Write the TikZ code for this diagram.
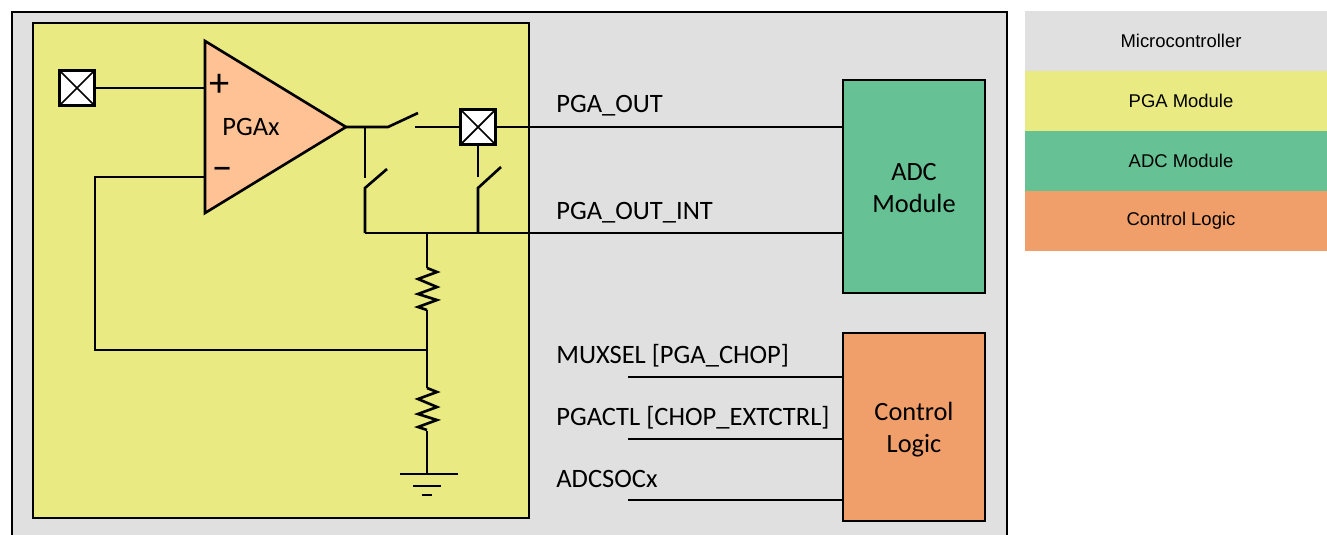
\documentclass[tikz,border=0pt]{standalone}
\usepackage{fontspec}
\setmainfont{Carlito}
\newfontfamily\legendfont{Liberation Sans}
\usetikzlibrary{calc, positioning}
\definecolor{mcugray}{HTML}{E0E0E0}
\definecolor{pgayellow}{HTML}{EAEA82}
\definecolor{adcgreen}{HTML}{66C194}
\definecolor{ctlorange}{HTML}{F09E6A}
\definecolor{ampfill}{HTML}{FFC295}

\begin{document}
\begin{tikzpicture}[
    x=0.02cm, y=-0.02cm,
    wire/.style={line width=1.5pt, line join=miter},
    block/.style={draw, line width=1.5pt, inner sep=0pt, align=center,
                  font=\fontsize{15}{18.2}\selectfont},
    pad/.style={draw, line width=1.5pt, fill=white, inner sep=0pt, minimum size=0.7cm,
                path picture={\draw[line width=1pt]
                  (path picture bounding box.north west) -- (path picture bounding box.south east)
                  (path picture bounding box.north east) -- (path picture bounding box.south west);}},
    sig/.style={anchor=base west, inner sep=0pt, font=\fontsize{15.1}{17}\selectfont},
    sign/.style={inner sep=0pt, font=\fontsize{23}{24}\selectfont},
    legend/.style={minimum width=6.24cm, minimum height=1.2cm, inner sep=0pt, outer sep=0pt,
                   font=\legendfont\fontsize{10.5}{12}\selectfont},
    res/.pic={\draw[wire] (0,0) -- ++(10,4) -- ++(-19,7) -- ++(19,8) -- ++(-19,7)
                -- ++(19,6) -- ++(-19,7) -- ++(9,3);}
  ]
    \useasboundingbox (0,0) rectangle (1327,534);

    % module boxes
    \node[block, fill=mcugray, minimum width=19.9cm, minimum height=10.66cm] (mcu) at (509.5,278.5) {};
    \node[block, fill=pgayellow, minimum width=9.92cm, minimum height=9.9cm] (pga) at (281,270.5) {};
    \node[block, fill=adcgreen, minimum width=2.84cm, minimum height=4.26cm] (adc) at (914,186.5) {\rule{0pt}{12pt}ADC\\Module};
    \node[block, fill=ctlorange, minimum width=2.84cm, minimum height=3.76cm] (ctl) at (914,427) {\rule{0pt}{13pt}Control\\Logic};

    % amplifier
    \coordinate (ampa) at (205,41);
    \coordinate (ampb) at (205,213);
    \coordinate (ampo) at (346,127);
    \draw[wire, fill=ampfill] (ampa) -- (ampo) -- (ampb) -- cycle;
    \node[sig, anchor=center] (amplbl) at (251,127) {PGAx};
    \node[sign] (ampp) at (219.5,85) {+};
    \node[sign] (ampm) at (222.5,174) {−};

    \node[pad] (padin)  at (77,88)   {};
    \node[pad] (padout) at (478,127) {};

    % input and feedback
    \coordinate (fbtop) at (95,177);
    \coordinate (fbbot) at (95,350);
    \coordinate (tap)   at (427,350);
    \coordinate (bus)   at (427,233);
    \coordinate (sw)    at (365,127);
    \coordinate (swl)   at (365,233);
    \draw[wire] (padin.east) -- (padin.east -| ampa);
    \draw[wire] (fbtop -| ampa) -- (fbtop) -- (fbbot) -- (tap);

    % switches
    \draw[wire] (ampo) -- (388,127) -- (418,113);
    \draw[wire] (415,127) -- (padout.west);
    \draw[wire] (sw) -- (365,178);
    \draw[wire] (387,169) -- (365,188) -- (swl);
    \draw[wire] (padout.south) -- (478,177);
    \draw[wire] (501,167) -- (478,188) -- (478,233);

    % outputs to adc
    \draw[wire] (padout.east) -- (padout.east -| adc.west);
    \draw[wire] (swl) -- (swl -| adc.west);
    \node[sig] (lblout) at (556,112) {PGA\_OUT};
    \node[sig] (lblint) at (556,219) {PGA\_OUT\_INT};

    % divider
    \draw[wire] (bus) -- (427,268);
    \pic at (427,268) {res};
    \draw[wire] (427,310) -- (427,388);
    \pic at (427,388) {res};
    \coordinate (gnd) at (427,474);
    \draw[wire] (427,431) -- (gnd);
    \draw[wire] (400,474) -- (458,474);
    \draw[wire] (413,486) -- (441,486);
    \draw[wire] (422,495) -- (432,495);

    % control signals
    \coordinate (mux) at (628,377);
    \coordinate (act) at (628,439);
    \coordinate (soc) at (628,500);
    \draw[wire] (mux) -- (mux -| ctl.west);
    \draw[wire] (act) -- (act -| ctl.west);
    \draw[wire] (soc) -- (soc -| ctl.west);
    \node[sig] (lblmux) at (556,363) {MUXSEL [PGA\_CHOP]};
    \node[sig] (lblact) at (556,425) {PGACTL [CHOP\_EXTCTRL]};
    \node[sig] (lblsoc) at (556,487) {ADCSOCx};

    % legend
    \node[legend, fill=mcugray] (lgmcu) at (1181,41) {Microcontroller};
    \node[legend, fill=pgayellow, below=-0.03pt of lgmcu] (lgpga) {PGA Module};
    \node[legend, fill=adcgreen, below=-0.03pt of lgpga] (lgadc) {ADC Module};
    \node[legend, fill=ctlorange, below=-0.03pt of lgadc] (lgctl) {Control Logic};
\end{tikzpicture}
\end{document}
